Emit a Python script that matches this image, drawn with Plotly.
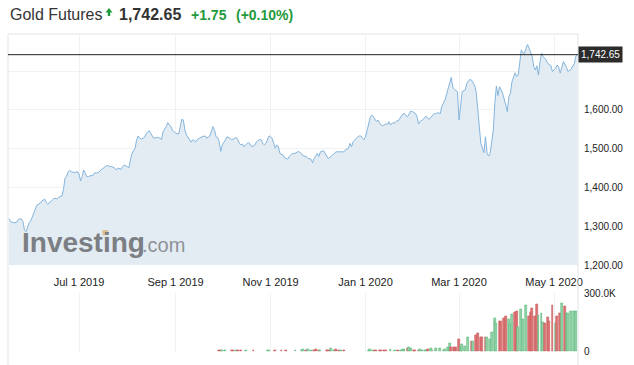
import plotly.graph_objects as go

# ---------------- data ----------------
price_dates = [
    "2019-05-17", "2019-05-18", "2019-05-20", "2019-05-22", "2019-05-23", "2019-05-25", "2019-05-26", "2019-05-27",
    "2019-05-28", "2019-05-29", "2019-05-30", "2019-05-31", "2019-06-01", "2019-06-03", "2019-06-04", "2019-06-06",
    "2019-06-07", "2019-06-09", "2019-06-10", "2019-06-11", "2019-06-13", "2019-06-14", "2019-06-15", "2019-06-17",
    "2019-06-18", "2019-06-20", "2019-06-21", "2019-06-22", "2019-06-23", "2019-06-24", "2019-06-25", "2019-06-26",
    "2019-06-28", "2019-06-30", "2019-07-01", "2019-07-02", "2019-07-03", "2019-07-04", "2019-07-05", "2019-07-06",
    "2019-07-07", "2019-07-08", "2019-07-10", "2019-07-11", "2019-07-12", "2019-07-13", "2019-07-14", "2019-07-15",
    "2019-07-17", "2019-07-18", "2019-07-19", "2019-07-21", "2019-07-22", "2019-07-24", "2019-07-25", "2019-07-26",
    "2019-07-28", "2019-07-29", "2019-07-30", "2019-08-01", "2019-08-02", "2019-08-03", "2019-08-04", "2019-08-06",
    "2019-08-07", "2019-08-08", "2019-08-09", "2019-08-10", "2019-08-12", "2019-08-13", "2019-08-15", "2019-08-16",
    "2019-08-17", "2019-08-18", "2019-08-19", "2019-08-21", "2019-08-22", "2019-08-23", "2019-08-24", "2019-08-25",
    "2019-08-26", "2019-08-27", "2019-08-28", "2019-08-29", "2019-08-30", "2019-08-31", "2019-09-01", "2019-09-03",
    "2019-09-04", "2019-09-05", "2019-09-06", "2019-09-07", "2019-09-08", "2019-09-09", "2019-09-11", "2019-09-12",
    "2019-09-14", "2019-09-15", "2019-09-18", "2019-09-20", "2019-09-21", "2019-09-23", "2019-09-24", "2019-09-25",
    "2019-09-26", "2019-09-27", "2019-09-28", "2019-09-29", "2019-09-30", "2019-10-01", "2019-10-03", "2019-10-04",
    "2019-10-06", "2019-10-07", "2019-10-09", "2019-10-10", "2019-10-11", "2019-10-12", "2019-10-13", "2019-10-14",
    "2019-10-15", "2019-10-16", "2019-10-17", "2019-10-18", "2019-10-19", "2019-10-20", "2019-10-22", "2019-10-23",
    "2019-10-25", "2019-10-26", "2019-10-27", "2019-10-28", "2019-10-29", "2019-10-30", "2019-10-31", "2019-11-01",
    "2019-11-02", "2019-11-03", "2019-11-04", "2019-11-05", "2019-11-06", "2019-11-07", "2019-11-09", "2019-11-10",
    "2019-11-12", "2019-11-13", "2019-11-15", "2019-11-16", "2019-11-18", "2019-11-19", "2019-11-21", "2019-11-22",
    "2019-11-24", "2019-11-25", "2019-11-27", "2019-11-28", "2019-11-29", "2019-12-01", "2019-12-02", "2019-12-03",
    "2019-12-05", "2019-12-06", "2019-12-07", "2019-12-08", "2019-12-10", "2019-12-11", "2019-12-12", "2019-12-13",
    "2019-12-15", "2019-12-17", "2019-12-18", "2019-12-19", "2019-12-20", "2019-12-21", "2019-12-22", "2019-12-23",
    "2019-12-24", "2019-12-25", "2019-12-27", "2019-12-28", "2019-12-29", "2019-12-30", "2019-12-31", "2020-01-01",
    "2020-01-02", "2020-01-03", "2020-01-04", "2020-01-05", "2020-01-06", "2020-01-08", "2020-01-09", "2020-01-10",
    "2020-01-11", "2020-01-12", "2020-01-14", "2020-01-15", "2020-01-16", "2020-01-17", "2020-01-18", "2020-01-20",
    "2020-01-21", "2020-01-22", "2020-01-23", "2020-01-24", "2020-01-25", "2020-01-26", "2020-01-27", "2020-01-28",
    "2020-01-29", "2020-01-30", "2020-01-31", "2020-02-02", "2020-02-03", "2020-02-04", "2020-02-05", "2020-02-06",
    "2020-02-07", "2020-02-08", "2020-02-09", "2020-02-10", "2020-02-11", "2020-02-12", "2020-02-13", "2020-02-14",
    "2020-02-15", "2020-02-16", "2020-02-18", "2020-02-19", "2020-02-21", "2020-02-23", "2020-02-25", "2020-02-26",
    "2020-02-27", "2020-02-29", "2020-03-01", "2020-03-02", "2020-03-03", "2020-03-05", "2020-03-06", "2020-03-08",
    "2020-03-09", "2020-03-11", "2020-03-12", "2020-03-13", "2020-03-14", "2020-03-15", "2020-03-17", "2020-03-18",
    "2020-03-19", "2020-03-20", "2020-03-21", "2020-03-23", "2020-03-24", "2020-03-25", "2020-03-26", "2020-03-27",
    "2020-03-28", "2020-03-29", "2020-03-31", "2020-04-01", "2020-04-02", "2020-04-03", "2020-04-04", "2020-04-06",
    "2020-04-07", "2020-04-08", "2020-04-09", "2020-04-10", "2020-04-11", "2020-04-12", "2020-04-13", "2020-04-14",
    "2020-04-15", "2020-04-16", "2020-04-17", "2020-04-18", "2020-04-19", "2020-04-20", "2020-04-21", "2020-04-22",
    "2020-04-23", "2020-04-24", "2020-04-26", "2020-04-27", "2020-04-29", "2020-04-30", "2020-05-01", "2020-05-02",
    "2020-05-03", "2020-05-04", "2020-05-05", "2020-05-06", "2020-05-07", "2020-05-09", "2020-05-10", "2020-05-12",
    "2020-05-13", "2020-05-14", "2020-05-15", "2020-05-16",
]
price_values = [
    1320, 1312, 1309, 1310, 1318, 1319, 1312, 1290,
    1286, 1299, 1309, 1314, 1325, 1342, 1355, 1359,
    1365, 1370, 1361, 1357, 1363, 1368, 1372, 1371,
    1375, 1378, 1394, 1424, 1428, 1441, 1444, 1441,
    1438, 1441, 1434, 1417, 1428, 1445, 1437, 1428,
    1428, 1430, 1431, 1438, 1437, 1439, 1440, 1445,
    1450, 1454, 1457, 1454, 1454, 1450, 1445, 1450,
    1447, 1454, 1458, 1454, 1450, 1471, 1488, 1501,
    1523, 1533, 1527, 1525, 1529, 1538, 1547, 1540,
    1533, 1527, 1528, 1529, 1527, 1524, 1544, 1550,
    1557, 1567, 1563, 1557, 1548, 1543, 1540, 1538,
    1557, 1576, 1574, 1548, 1536, 1529, 1517, 1523,
    1518, 1524, 1531, 1533, 1527, 1533, 1544, 1557,
    1548, 1531, 1529, 1518, 1493, 1510, 1523, 1531,
    1527, 1523, 1527, 1529, 1523, 1514, 1510, 1512,
    1505, 1510, 1514, 1516, 1510, 1505, 1510, 1518,
    1524, 1523, 1514, 1510, 1514, 1523, 1533, 1531,
    1527, 1514, 1501, 1510, 1505, 1488, 1484, 1477,
    1473, 1480, 1488, 1487, 1490, 1493, 1487, 1481,
    1480, 1475, 1473, 1464, 1475, 1488, 1480, 1492,
    1495, 1488, 1480, 1475, 1480, 1484, 1486, 1492,
    1492, 1492, 1492, 1497, 1499, 1501, 1514, 1505,
    1518, 1523, 1531, 1533, 1533, 1527, 1523, 1531,
    1548, 1566, 1581, 1587, 1583, 1570, 1574, 1567,
    1561, 1559, 1564, 1563, 1570, 1561, 1566, 1567,
    1572, 1572, 1578, 1583, 1590, 1591, 1585, 1583,
    1591, 1597, 1596, 1591, 1583, 1564, 1570, 1572,
    1576, 1581, 1584, 1578, 1576, 1581, 1587, 1591,
    1590, 1593, 1591, 1610, 1626, 1656, 1684, 1659,
    1653, 1647, 1574, 1609, 1647, 1652, 1669, 1679,
    1677, 1664, 1647, 1604, 1548, 1514, 1490, 1531,
    1488, 1481, 1488, 1548, 1617, 1662, 1637, 1660,
    1652, 1643, 1613, 1596, 1634, 1643, 1673, 1696,
    1686, 1690, 1722, 1755, 1748, 1746, 1759, 1769,
    1759, 1746, 1738, 1712, 1703, 1714, 1690, 1725,
    1746, 1738, 1729, 1720, 1714, 1699, 1703, 1707,
    1716, 1710, 1695, 1713, 1725, 1710, 1699, 1705,
    1712, 1720, 1738, 1742.65,
]

volume_dates = [
    "2019-09-29", "2019-09-30", "2019-10-01", "2019-10-03", "2019-10-07", "2019-10-08", "2019-10-10", "2019-10-11",
    "2019-10-13", "2019-10-16", "2019-10-21", "2019-10-30", "2019-10-31", "2019-11-04", "2019-11-08", "2019-11-11",
    "2019-11-17", "2019-11-21", "2019-11-22", "2019-11-24", "2019-11-25", "2019-11-27", "2019-11-29", "2019-11-30",
    "2019-12-02", "2019-12-03", "2019-12-07", "2019-12-08", "2019-12-09", "2019-12-10", "2019-12-12", "2019-12-13",
    "2019-12-15", "2019-12-16", "2019-12-18", "2020-01-03", "2020-01-04", "2020-01-06", "2020-01-07", "2020-01-08",
    "2020-01-10", "2020-01-11", "2020-01-13", "2020-01-14", "2020-01-17", "2020-01-20", "2020-01-22", "2020-01-24",
    "2020-01-25", "2020-01-26", "2020-01-28", "2020-01-29", "2020-01-30", "2020-02-01", "2020-02-02", "2020-02-04",
    "2020-02-05", "2020-02-06", "2020-02-08", "2020-02-09", "2020-02-10", "2020-02-12", "2020-02-13", "2020-02-15",
    "2020-02-18", "2020-02-20", "2020-02-21", "2020-02-23", "2020-02-24", "2020-02-25", "2020-02-27", "2020-02-28",
    "2020-03-01", "2020-03-02", "2020-03-03", "2020-03-05", "2020-03-07", "2020-03-09", "2020-03-10", "2020-03-12",
    "2020-03-13", "2020-03-15", "2020-03-16", "2020-03-18", "2020-03-19", "2020-03-21", "2020-03-22", "2020-03-24",
    "2020-03-25", "2020-03-27", "2020-03-28", "2020-03-30", "2020-03-31", "2020-04-02", "2020-04-03", "2020-04-04",
    "2020-04-06", "2020-04-07", "2020-04-08", "2020-04-10", "2020-04-11", "2020-04-13", "2020-04-15", "2020-04-16",
    "2020-04-17", "2020-04-19", "2020-04-20", "2020-04-21", "2020-04-23", "2020-04-24", "2020-04-25", "2020-04-27",
    "2020-04-28", "2020-04-30", "2020-05-02", "2020-05-03", "2020-05-05", "2020-05-06", "2020-05-08", "2020-05-09",
    "2020-05-10", "2020-05-12", "2020-05-14", "2020-05-15",
]
volume_k = [
    8, 8, 8, 8, 8, 8, 8, 8,
    8, 8, 8, 8, 8, 8, 8, 8,
    8, 8, 14, 8, 14, 8, 8, 14,
    8, 8, 8, 8, 8, 19, 8, 12,
    8, 8, 8, 8, 14, 8, 8, 8,
    8, 8, 8, 8, 12, 6, 6, 9,
    14, 14, 20, 24, 17, 6, 6, 6,
    12, 6, 6, 6, 12, 17, 6, 17,
    17, 6, 12, 24, 45, 24, 24, 24,
    63, 27, 38, 29, 74, 51, 55, 86,
    94, 74, 74, 74, 74, 63, 99, 171,
    146, 158, 158, 171, 180, 168, 140, 192,
    202, 205, 125, 219, 168, 240, 183, 202,
    223, 183, 245, 185, 197, 151, 146, 175,
    158, 236, 146, 183, 195, 248, 231, 197,
    197, 209, 209, 209,
]
volume_up = [
    0, 0, 1, 1, 0, 0, 1, 0,
    0, 1, 0, 1, 1, 0, 0, 0,
    1, 1, 1, 0, 1, 1, 0, 0,
    0, 1, 0, 0, 0, 1, 1, 0,
    0, 1, 0, 1, 1, 1, 0, 0,
    0, 0, 0, 0, 1, 1, 0, 1,
    1, 1, 0, 1, 1, 0, 0, 0,
    1, 1, 1, 1, 0, 1, 1, 1,
    1, 1, 1, 1, 1, 0, 0, 0,
    0, 1, 1, 1, 1, 0, 1, 0,
    0, 0, 0, 0, 1, 1, 1, 1,
    1, 0, 0, 0, 0, 1, 1, 1,
    0, 0, 1, 1, 1, 1, 0, 0,
    0, 0, 0, 1, 1, 1, 0, 0,
    0, 0, 1, 0, 0, 1, 0, 1,
    1, 1, 1, 1,
]

y_tick_values = [1200, 1300, 1400, 1500, 1600, 1700]
y_tick_labels = ["1,200.00", "1,300.00", "1,400.00", "1,500.00", "1,600.00", ""]
vol_tick_values = [0, 300000]
vol_tick_labels = ["0", "300.0K"]

last_price = 1742.65
change = "+1.75"
change_pct = "(+0.10%)"
title = "Gold Futures"

# ---------------- figure ----------------
W, H = 634, 365
ML, MR, MT, MB = 8, 56, 34, 0
PW, PH = W - ML - MR, H - MT - MB


def px(x):
    return (x - ML) / PW


def py(y):
    return (H - MB - y) / PH


FONT = "Liberation Sans, Arial, Helvetica, sans-serif"
GREEN = "#1f9a3c"
GRID = "#f0f1f3"

up_fill, up_line = "#92d4a7", "#5fb97d"
dn_fill, dn_line = "#df7475", "#c95a5c"
bar_colors = [up_fill if u else dn_fill for u in volume_up]
bar_lines = [up_line if u else dn_line for u in volume_up]
volume_values = [v * 1000 for v in volume_k]

fig = go.Figure()
fig.add_trace(go.Scatter(
    x=price_dates, y=price_values, mode="lines",
    line=dict(color="#84b5dd", width=1.0),
    fill="tozeroy", fillcolor="#e4ecf3",
    xaxis="x", yaxis="y", hoverinfo="skip",
))
fig.add_trace(go.Bar(
    x=volume_dates, y=volume_values,
    marker=dict(color=bar_colors, line=dict(color=bar_lines, width=0.6)),
    width=1.2 * 86400000,
    xaxis="x2", yaxis="y2", hoverinfo="skip",
))

main_dom = [py(265), 1.0]
vol_dom = [py(351.7), py(293.3)]
x_range = ["2019-05-16 09:36", "2020-05-16 09:36"]

fig.update_layout(
    width=W, height=H, autosize=False,
    margin=dict(l=ML, r=MR, t=MT, b=MB, pad=0, autoexpand=False),
    paper_bgcolor="white", plot_bgcolor="white",
    showlegend=False, bargap=0,
    font=dict(family=FONT, color="#333333"),
    xaxis=dict(
        domain=[0, 1], anchor="y", type="date", range=x_range, automargin=False,
        tick0="2019-07-01", dtick="M2", tickformat="%b %-d %Y",
        showgrid=True, gridcolor=GRID, gridwidth=1,
        ticks="", showline=False, zeroline=False,
        tickfont=dict(size=11, color="#222222", family=FONT),
        ticklabelstandoff=9,
    ),
    yaxis=dict(
        domain=main_dom, anchor="x", range=[1200, 1796], side="right", automargin=False,
        tickvals=y_tick_values, ticktext=y_tick_labels,
        showgrid=True, gridcolor=GRID, gridwidth=1,
        ticks="", showline=False, zeroline=False,
        tickfont=dict(size=10, color="#222222", family=FONT),
        ticklabelstandoff=5,
    ),
    xaxis2=dict(
        domain=[0, 1], anchor="y2", type="date", matches="x", automargin=False,
        tick0="2019-07-01", dtick="M2",
        showgrid=True, gridcolor=GRID, gridwidth=1,
        showticklabels=False, ticks="", showline=False, zeroline=False,
    ),
    yaxis2=dict(
        domain=vol_dom, anchor="x2", range=[0, 300000], side="right", automargin=False,
        tickvals=vol_tick_values, ticktext=vol_tick_labels,
        showgrid=True, gridcolor=GRID, gridwidth=1,
        ticks="", showline=False, zeroline=False,
        tickfont=dict(size=10, color="#222222", family=FONT),
        ticklabelstandoff=5,
    ),
)

# small green up-arrow next to the title (paper coordinates)
ax0, ay0 = 109.0, 13.0
arrow_pts = [(ax0 - 3.5, ay0 - 0.5), (ax0, ay0 - 5), (ax0 + 3.5, ay0 - 0.5), (ax0 + 1.2, ay0 - 0.5),
             (ax0 + 1.2, ay0 + 3), (ax0 - 1.2, ay0 + 3), (ax0 - 1.2, ay0 - 0.5)]
arrow_path = "M " + " L ".join(f"{px(x):.5f},{py(y):.5f}" for x, y in arrow_pts) + " Z"

shapes = [
    # frame lines
    dict(type="line", xref="paper", yref="paper", x0=0, x1=1, y0=1, y1=1,
         line=dict(color="#e2e3e5", width=1)),
    dict(type="line", xref="paper", yref="paper", x0=0, x1=0, y0=0, y1=1,
         line=dict(color="#e2e3e5", width=1)),
    dict(type="line", xref="paper", yref="paper", x0=1, x1=1, y0=0, y1=1,
         line=dict(color="#e2e3e5", width=1)),
    # current price line
    dict(type="line", xref="paper", yref="y", x0=0, x1=1, y0=last_price, y1=last_price,
         line=dict(color="#222222", width=1)),
    # watermark accent
    dict(type="rect", xref="paper", yref="paper", x0=px(102.5), x1=px(108), y0=py(235.3), y1=py(230),
         fillcolor="#dcc08f", line=dict(width=0), layer="above"),
    # title arrow
    dict(type="path", xref="paper", yref="paper", path=arrow_path,
         fillcolor=GREEN, line=dict(width=0), layer="above"),
]
fig.update_layout(shapes=shapes)

annotations = [
    dict(text=title, x=px(8), y=py(14), xref="paper", yref="paper", xanchor="left", yanchor="middle",
         showarrow=False, font=dict(size=16, color="#333333", family=FONT)),
    dict(text="<b>1,742.65</b>", x=px(117), y=py(14), xref="paper", yref="paper", xanchor="left", yanchor="middle",
         showarrow=False, font=dict(size=16, color="#333333", family=FONT)),
    dict(text="<b>" + change + "</b>", x=px(189), y=py(14.5), xref="paper", yref="paper", xanchor="left",
         yanchor="middle", showarrow=False, font=dict(size=14, color=GREEN, family=FONT)),
    dict(text="<b>" + change_pct + "</b>", x=px(234), y=py(14.5), xref="paper", yref="paper", xanchor="left",
         yanchor="middle", showarrow=False, font=dict(size=14, color=GREEN, family=FONT)),
    # current price tag
    dict(text="1,742.65", x=1, y=last_price, xref="paper", yref="y", xanchor="left", yanchor="middle",
         showarrow=False, bgcolor="#2b2b2b", borderpad=2,
         font=dict(size=10, color="white", family=FONT)),
    # watermark
    dict(text="<b>Investing</b>", x=px(20), y=py(242.5), xref="paper", yref="paper", xanchor="left",
         yanchor="middle", showarrow=False, font=dict(size=28, color="#7b7f84", family=FONT)),
    dict(text=".com", x=px(140), y=py(245.5), xref="paper", yref="paper", xanchor="left",
         yanchor="middle", showarrow=False, font=dict(size=20, color="#8e9297", family=FONT)),
]
fig.update_layout(annotations=annotations)

fig.write_html(
    "out.html",
    config={"displayModeBar": False, "responsive": False},
    post_script="document.body.style.margin='0';document.body.style.overflow='hidden';",
)
